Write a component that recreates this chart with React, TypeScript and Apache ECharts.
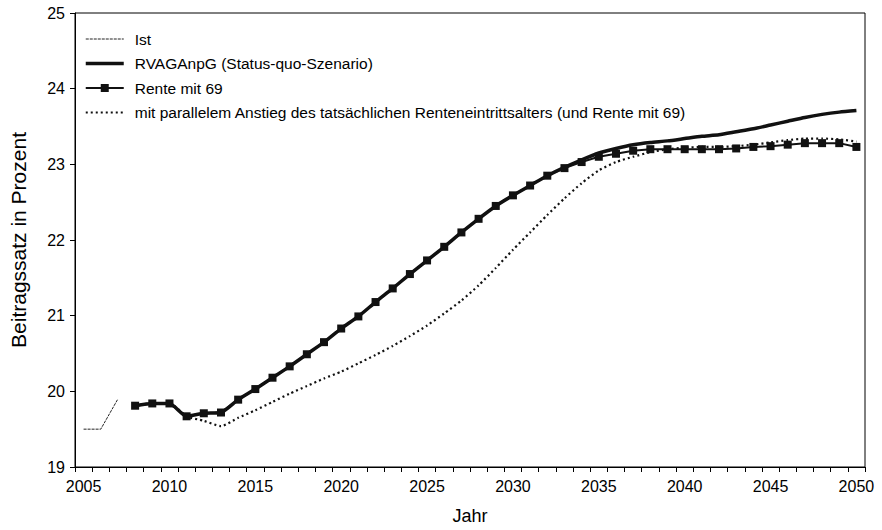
import React, { useEffect, useRef } from "react";
import * as echarts from "echarts";

const years = [
  "2005", "2006", "2007", "2008", "2009", "2010", "2011", "2012", "2013", "2014",
  "2015", "2016", "2017", "2018", "2019", "2020", "2021", "2022", "2023", "2024",
  "2025", "2026", "2027", "2028", "2029", "2030", "2031", "2032", "2033", "2034",
  "2035", "2036", "2037", "2038", "2039", "2040", "2041", "2042", "2043", "2044",
  "2045", "2046", "2047", "2048", "2049", "2050",
];

// Ist: 2005-2007
const ist = [19.5, 19.5, 19.9];

// RVAGAnpG (Status-quo-Szenario): 2008-2050
const rvaganpg = [
  19.81, 19.84, 19.84, 19.67, 19.71, 19.72, 19.89, 20.03, 20.18, 20.33,
  20.49, 20.65, 20.83, 20.99, 21.18, 21.36, 21.55, 21.73, 21.91, 22.10,
  22.28, 22.45, 22.59, 22.72, 22.85, 22.96, 23.06, 23.15, 23.21, 23.26,
  23.29, 23.31, 23.34, 23.37, 23.39, 23.43, 23.47, 23.52, 23.57, 23.62,
  23.66, 23.69, 23.71,
];

// Rente mit 69: 2008-2050
const rente69 = [
  19.81, 19.84, 19.84, 19.67, 19.71, 19.72, 19.89, 20.03, 20.18, 20.33,
  20.49, 20.65, 20.83, 20.99, 21.18, 21.36, 21.55, 21.73, 21.91, 22.10,
  22.28, 22.45, 22.59, 22.72, 22.85, 22.95, 23.03, 23.10, 23.14, 23.18,
  23.20, 23.20, 23.20, 23.20, 23.20, 23.21, 23.23, 23.24, 23.26, 23.28,
  23.28, 23.28, 23.23,
];

// mit parallelem Anstieg des tatsächlichen Renteneintrittsalters: 2008-2050
const parallel = [
  19.81, 19.84, 19.84, 19.67, 19.61, 19.54, 19.65, 19.75, 19.86, 19.97,
  20.07, 20.17, 20.26, 20.37, 20.48, 20.60, 20.73, 20.87, 21.03, 21.20,
  21.40, 21.63, 21.87, 22.10, 22.33, 22.55, 22.75, 22.92, 23.03, 23.10,
  23.16, 23.20, 23.22, 23.23, 23.23, 23.24, 23.26, 23.29, 23.32, 23.34,
  23.34, 23.33, 23.30,
];

const yTicks = [19, 20, 21, 22, 23, 24, 25];

const names = [
  "Ist",
  "RVAGAnpG (Status-quo-Szenario)",
  "Rente mit 69",
  "mit parallelem Anstieg des tatsächlichen Renteneintrittsalters (und Rente mit 69)",
];

function pad(values: number[], startYear: string): (number | null)[] {
  const start = years.indexOf(startYear);
  return years.map((_, i) =>
    i >= start && i - start < values.length ? values[i - start] : null
  );
}

const FONT = "Liberation Sans, Arial, sans-serif";
const hidden = { opacity: 0 };

export default function App() {
  const ref = useRef<HTMLDivElement>(null);
  useEffect(() => {
    if (!ref.current) return;
    const chart = echarts.init(ref.current, undefined, { renderer: "svg" });
    chart.setOption({
      animation: false,
      backgroundColor: "#fff",
      textStyle: { fontFamily: FONT, color: "#000" },
      grid: {
        left: 67,
        right: 17,
        top: 13,
        bottom: 51,
        show: true,
        borderColor: "#000",
        borderWidth: 1,
      },
      legend: {
        orient: "vertical",
        left: 79,
        top: 26,
        itemWidth: 38,
        itemHeight: 10,
        itemGap: 8.5,
        textStyle: {
          fontFamily: FONT,
          fontSize: 15.5,
          color: "#000",
          padding: [0, 0, 0, 6],
        },
        data: [
          { name: names[0], itemStyle: hidden, lineStyle: { width: 1 } },
          { name: names[1], itemStyle: hidden, lineStyle: { width: 3.5 } },
          { name: names[2], lineStyle: { width: 2 } },
          { name: names[3], itemStyle: hidden, lineStyle: { width: 2 } },
        ],
      },
      xAxis: {
        type: "category",
        data: years,
        boundaryGap: true,
        name: "Jahr",
        nameLocation: "middle",
        nameGap: 40,
        nameTextStyle: { fontFamily: FONT, fontSize: 18, color: "#000" },
        axisLine: { lineStyle: { color: "#000", width: 1 } },
        axisTick: { show: true, interval: 0, length: 5, lineStyle: { color: "#000" } },
        axisLabel: {
          interval: 4,
          margin: 11,
          fontFamily: FONT,
          fontSize: 16,
          color: "#000",
        },
        splitLine: { show: false },
      },
      yAxis: {
        type: "value",
        min: yTicks[0],
        max: yTicks[yTicks.length - 1],
        interval: 1,
        name: "Beitragssatz in Prozent",
        nameLocation: "middle",
        nameGap: 46,
        nameTextStyle: { fontFamily: FONT, fontSize: 21, color: "#000" },
        axisLine: { show: true, lineStyle: { color: "#000", width: 1 } },
        axisTick: { show: true, length: 5, lineStyle: { color: "#000" } },
        axisLabel: { margin: 10, fontFamily: FONT, fontSize: 16, color: "#000" },
        splitLine: { show: false },
      },
      series: [
        {
          name: names[0],
          type: "line",
          data: pad(ist, "2005"),
          symbol: "none",
          lineStyle: { color: "#222", width: 1, type: [3, 1] },
          itemStyle: { color: "#222" },
        },
        {
          name: names[1],
          type: "line",
          data: pad(rvaganpg, "2008"),
          symbol: "none",
          smooth: 0.2,
          lineStyle: { color: "#111", width: 3.5 },
          itemStyle: { color: "#111" },
        },
        {
          name: names[2],
          type: "line",
          data: pad(rente69, "2008"),
          symbol: "rect",
          symbolSize: 8,
          showAllSymbol: true,
          lineStyle: { color: "#111", width: 2 },
          itemStyle: { color: "#111" },
        },
        {
          name: names[3],
          type: "line",
          data: pad(parallel, "2008"),
          symbol: "none",
          smooth: 0.2,
          lineStyle: { color: "#111", width: 2.2, type: [2, 3] },
          itemStyle: { color: "#111" },
        },
      ],
    });
    return () => chart.dispose();
  }, []);
  return (
    <div
      ref={ref}
      style={{ position: "absolute", left: 0, top: 0, width: 882, height: 530 }}
    />
  );
}
